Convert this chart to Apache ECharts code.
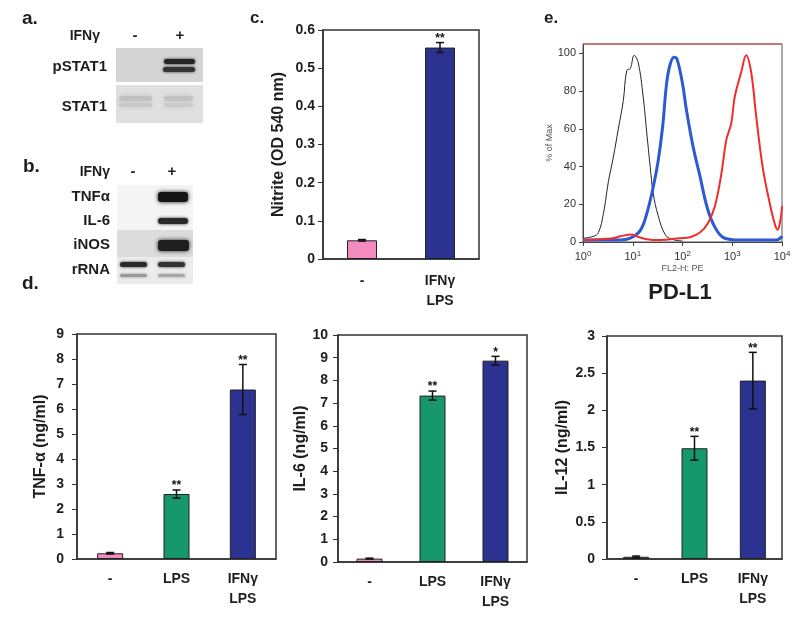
<!DOCTYPE html>
<html>
<head>
<meta charset="utf-8" />
<title>IFNγ / PD-L1 panels</title>
<script src="https://cdn.jsdelivr.net/npm/echarts@6/dist/echarts.min.js"></script>
<style>body{margin:0;background:#fff;}</style>
</head>
<body>
<div id="fig" style="width:800px;height:620px;"></div>
<script type="text/javascript">
// panel c - nitrite
var nitriteCats = ['-', 'IFNγ\nLPS'];
var nitriteVals = [0.049, 0.554];
var nitriteErr = [0.002, 0.013];
var nitriteSig = ['', '**'];

// panel d - cytokines
var dCats = ['-', 'LPS', 'IFNγ\nLPS'];
var tnfVals = [0.23, 2.6, 6.78];
var tnfErr = [0.03, 0.16, 1.0];
var tnfSig = ['', '**', '**'];
var il6Vals = [0.15, 7.33, 8.87];
var il6Err = [0.02, 0.2, 0.19];
var il6Sig = ['', '**', '*'];
var il12Vals = [0.03, 1.49, 2.4];
var il12Err = [0.01, 0.16, 0.38];
var il12Sig = ['', '**', '**'];

// panel e - PD-L1 histograms [FL2-H, % of max]
var histIso = [[1,2],[1.62,3],[2.04,5],[2.57,15],[3.24,32],[4.07,45],[5.13,60],[6.46,75],[7.59,91],[8.91,92],
  [10.7,99],[12.9,95],[16.2,77],[19.1,58],[22.4,40],[25.7,26],[32.4,14],[44.7,4],[60.3,1.5],[100,0.5]];
var histCtrl = [[1,1],[5.6,1],[8.9,2],[14.1,6],[19.1,15],[25.7,29],[32.4,43],[39.8,61],[47.9,84],[56.2,94],
  [67.6,98],[77.6,97],[100,84],[120,70],[162,51],[224,35],[324,17],[479,6.5],[708,2],[1413,1],[7586,1],[10000,3]];
var histIfn = [[1,1],[4.07,2],[5.6,3],[9.5,4],[12,3],[19.1,1.5],[35.5,1],[89,2],[141,2.5],[224,5],[324,10],
  [447,19],[603,36],[759,54],[955,63],[1122,77],[1514,90],[1905,99],[2399,90],[3020,67],[4074,40],
  [5623,21],[7079,10],[8128,6.5],[9333,12],[10000,19]];

var pink = '#f28cc0', green = '#17986c', navy = '#2b3290';
var FF = '"Liberation Sans", Arial, sans-serif';
var ink = '#1e1e1e';

var myChart = echarts.init(document.getElementById('fig'));

function barAxes(gi, cats, max, interval, name, nameGap, tickMargin, catMargin) {
  var x = {
    type: 'category', gridIndex: gi, data: cats,
    axisTick: {show: false},
    axisLine: {lineStyle: {color: '#333', width: 1.5}},
    axisLabel: {color: ink, fontFamily: FF, fontWeight: 'bold', fontSize: 14, lineHeight: 20, margin: catMargin}
  };
  var y = {
    type: 'value', gridIndex: gi, min: 0, max: max, interval: interval,
    splitLine: {show: false},
    axisLine: {show: true, lineStyle: {color: '#333', width: 1.5}},
    axisTick: {show: true, length: 5, lineStyle: {color: '#333'}},
    axisLabel: {color: ink, fontFamily: FF, fontWeight: 'bold', fontSize: 14, margin: tickMargin},
    name: name, nameLocation: 'middle', nameRotate: 90, nameGap: nameGap,
    nameTextStyle: {color: ink, fontFamily: FF, fontWeight: 'bold', fontSize: 16}
  };
  return [x, y];
}

function barSeries(gi, vals, colors, width) {
  return {
    type: 'bar', xAxisIndex: gi, yAxisIndex: gi, barWidth: width,
    data: vals.map(function (v, i) {
      return {value: v, itemStyle: {color: colors[i], borderColor: '#222', borderWidth: 1}};
    })
  };
}

function errSeries(gi, vals, errs, sigs) {
  return {
    type: 'custom', xAxisIndex: gi, yAxisIndex: gi, z: 5,
    data: vals.map(function (v, i) { return [i, v, errs[i]]; }),
    renderItem: function (params, api) {
      var i = api.value(0), v = api.value(1), e = api.value(2);
      var top = api.coord([i, v + e]);
      var bot = api.coord([i, v - e]);
      var st = {stroke: '#111', lineWidth: 1.5};
      var ch = [
        {type: 'line', shape: {x1: top[0], y1: top[1], x2: bot[0], y2: bot[1]}, style: st},
        {type: 'line', shape: {x1: top[0] - 4, y1: top[1], x2: top[0] + 4, y2: top[1]}, style: st},
        {type: 'line', shape: {x1: bot[0] - 4, y1: bot[1], x2: bot[0] + 4, y2: bot[1]}, style: st}
      ];
      var s = sigs[params.dataIndex];
      if (s) {
        ch.push({type: 'text', x: top[0], y: top[1] - 10, style: {
          text: s, font: 'bold 12px ' + FF, fill: '#111',
          textAlign: 'center', align: 'center', textVerticalAlign: 'top', verticalAlign: 'top'}});
      }
      return {type: 'group', children: ch};
    }
  };
}

function txt(t, x, y, size, align) {
  return {type: 'text', x: x, y: y, style: {
    text: t, font: 'bold ' + size + 'px ' + FF, fill: ink,
    textAlign: align, align: align, textVerticalAlign: 'middle', verticalAlign: 'middle'}};
}
// blot background or band
function box(x, y, w, h, fill, blur) {
  return {type: 'rect', shape: {x: x, y: y, width: w, height: h, r: blur ? Math.min(h / 2, 3) : 0},
    style: {fill: fill, shadowBlur: blur || 0, shadowColor: fill}};
}

var axC = barAxes(0, nitriteCats, 0.6, 0.1, 'Nitrite (OD 540 nm)', 36, 8, 12);
var axT = barAxes(1, dCats, 9, 1, 'TNF-α (ng/ml)', 28, 13, 10);
var axI6 = barAxes(2, dCats, 10, 1, 'IL-6 (ng/ml)', 25, 10, 10);
var axI12 = barAxes(3, dCats, 3, 0.5, 'IL-12 (ng/ml)', 36, 12, 10);

var gridStyle = {show: true, borderColor: '#333', borderWidth: 1.5, backgroundColor: '#fff'};

var option = {
  animation: false,
  backgroundColor: '#fff',
  grid: [
    Object.assign({left: 323, top: 30, width: 156, height: 229}, gridStyle),
    Object.assign({left: 77, top: 334, width: 199, height: 225}, gridStyle),
    Object.assign({left: 338, top: 335, width: 189, height: 227}, gridStyle),
    Object.assign({left: 607, top: 336, width: 175, height: 223}, gridStyle),
    {left: 583, top: 44, width: 199, height: 198, show: true, borderColor: '#555', borderWidth: 1}
  ],
  xAxis: [axC[0], axT[0], axI6[0], axI12[0], {
    type: 'log', logBase: 10, min: 1, max: 10000, gridIndex: 4,
    splitLine: {show: false},
    axisLine: {lineStyle: {color: '#444', width: 1}},
    axisTick: {show: true, length: 4, lineStyle: {color: '#444'}},
    axisLabel: {
      margin: 8,
      formatter: function (v) { return '{b|10}{s|' + Math.round(Math.log10(v)) + '}'; },
      rich: {
        b: {fontFamily: FF, fontSize: 11, color: '#333', lineHeight: 14},
        s: {fontFamily: FF, fontSize: 8, color: '#333', verticalAlign: 'top', lineHeight: 10}
      }
    },
    name: 'FL2-H: PE', nameLocation: 'middle', nameGap: 22,
    nameTextStyle: {fontFamily: FF, fontSize: 9, color: '#555'}
  }],
  yAxis: [axC[1], axT[1], axI6[1], axI12[1], {
    type: 'value', gridIndex: 4, min: 0, max: 105, interval: 20,
    splitLine: {show: false},
    axisLine: {show: true, lineStyle: {color: '#444', width: 1}},
    axisTick: {show: true, length: 4, lineStyle: {color: '#444'}},
    axisLabel: {fontFamily: FF, fontSize: 11, color: '#333', margin: 7, showMaxLabel: false},
    name: '% of Max', nameLocation: 'middle', nameRotate: 90, nameGap: 27,
    nameTextStyle: {fontFamily: FF, fontSize: 9, color: '#555'}
  }],
  series: [
    barSeries(0, nitriteVals, [pink, navy], 30),
    errSeries(0, nitriteVals, nitriteErr, nitriteSig),
    barSeries(1, tnfVals, [pink, green, navy], 26),
    errSeries(1, tnfVals, tnfErr, tnfSig),
    barSeries(2, il6Vals, [pink, green, navy], 26),
    errSeries(2, il6Vals, il6Err, il6Sig),
    barSeries(3, il12Vals, ['#d0608a', green, navy], 26),
    errSeries(3, il12Vals, il12Err, il12Sig),
    {type: 'line', xAxisIndex: 4, yAxisIndex: 4, data: histIso, showSymbol: false, smooth: 0.4,
      lineStyle: {color: '#222', width: 1}},
    {type: 'line', xAxisIndex: 4, yAxisIndex: 4, data: histCtrl, showSymbol: false, smooth: 0.4,
      lineStyle: {color: '#2c5ad2', width: 3}},
    {type: 'line', xAxisIndex: 4, yAxisIndex: 4, data: histIfn, showSymbol: false, smooth: 0.4,
      lineStyle: {color: '#ef2d2d', width: 2}}
  ],
  graphic: {elements: [
    // panel letters
    txt('a.', 22, 19, 19, 'left'),
    txt('b.', 23, 167, 19, 'left'),
    txt('c.', 250, 18, 17, 'left'),
    txt('d.', 22, 284, 19, 'left'),
    txt('e.', 544, 18, 17, 'left'),
    // blot a
    txt('IFNγ', 100, 36, 14, 'right'),
    txt('-', 135, 36, 15, 'center'),
    txt('+', 180, 36, 15, 'center'),
    txt('pSTAT1', 107, 67, 15, 'right'),
    txt('STAT1', 107, 107, 15, 'right'),
    box(116, 48, 87, 34, '#d4d4d4'),
    box(116, 85, 87, 38, '#e0e0e0'),
    box(164, 59, 31, 5, '#262626', 3),
    box(163, 67, 32, 5, '#343434', 3),
    box(119, 96, 33, 5, '#c0c0c0', 5),
    box(119, 103, 33, 4, '#c8c8c8', 5),
    box(164, 96, 29, 5, '#c2c2c2', 5),
    box(164, 103, 29, 4, '#cacaca', 5),
    // blot b
    txt('IFNγ', 110, 172, 14, 'right'),
    txt('-', 133, 172, 15, 'center'),
    txt('+', 172, 172, 15, 'center'),
    txt('TNFα', 110, 197, 15, 'right'),
    txt('IL-6', 110, 221, 15, 'right'),
    txt('iNOS', 110, 245, 15, 'right'),
    txt('rRNA', 110, 270, 15, 'right'),
    box(117, 185, 76, 45, '#f4f4f4'),
    box(117, 230, 76, 27, '#dcdcdc'),
    box(117, 257, 76, 27, '#ececec'),
    box(158, 192, 30, 10, '#161616', 4),
    box(158, 218, 30, 6, '#2a2a2a', 3),
    box(158, 240, 31, 11, '#1f1f1f', 4),
    box(120, 262, 27, 5, '#2a2a2a', 3),
    box(158, 262, 27, 5, '#333333', 3),
    box(120, 274, 27, 3, '#9a9a9a', 3),
    box(158, 274, 27, 3, '#a6a6a6', 3),
    // panel e
    {type: 'line', shape: {x1: 583, y1: 44, x2: 782, y2: 44}, style: {stroke: '#e04848', lineWidth: 1}, z: 10},
    txt('PD-L1', 680, 293, 22, 'center')
  ]}
};

myChart.setOption(option);
</script>
</body>
</html>
